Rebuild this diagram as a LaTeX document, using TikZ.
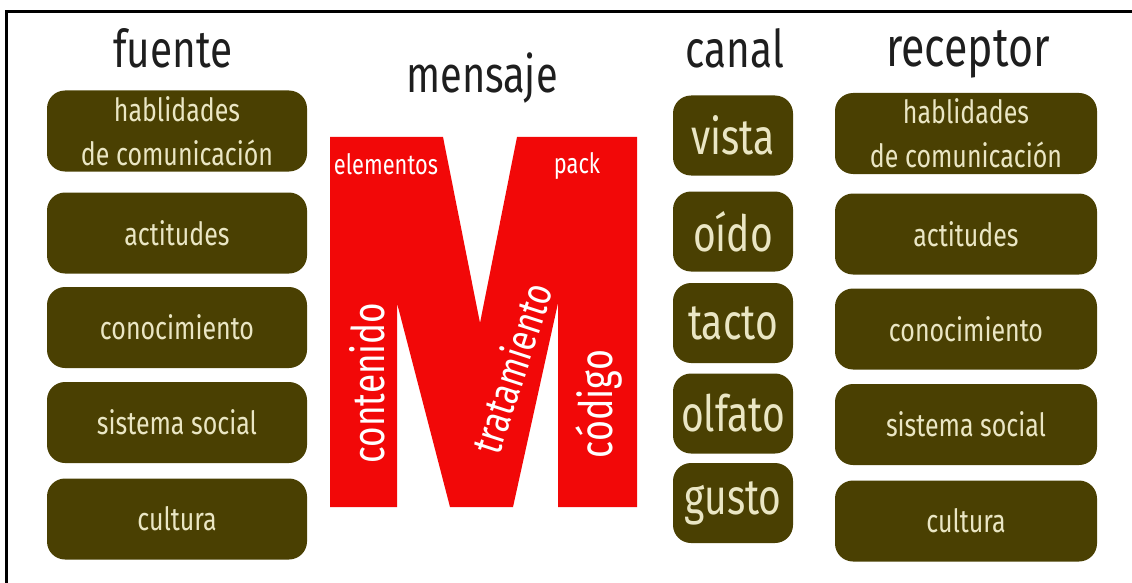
\documentclass[tikz,border=0pt]{standalone}
\usepackage{fontspec}
\setmainfont{Fira Sans}[FakeStretch=0.78]
\usepackage{xcolor}
\usetikzlibrary{calc}

\definecolor{olivebox}{RGB}{74,64,2}
\definecolor{creamtext}{RGB}{234,230,196}
\definecolor{mred}{RGB}{242,8,8}
\definecolor{titlegray}{RGB}{30,30,30}

\begin{document}
\begin{tikzpicture}[
  x=1pt, y=1pt,
  every node/.style={inner sep=0pt},
  heading/.style={font=\fontsize{52}{54}\selectfont, titlegray, anchor=base},
  factor/.style={fill=olivebox, rounded corners=18pt, minimum width=260pt,
    minimum height=81pt, text=creamtext, align=center,
    font=\fontsize{32}{44}\selectfont},
  sense/.style={fill=olivebox, rounded corners=18pt, minimum width=120pt,
    minimum height=80pt, text=creamtext, font=\fontsize{50}{52}\selectfont},
  mword/.style={text=white}
]
\useasboundingbox (0,0) rectangle (1132,-583);

% ---- FRAME (top and left edges) ----
\draw[line width=3pt] (6.5,-583) -- (6.5,-11.5) -- (1132,-11.5);

% ---- TITLES ----
\node[heading] (fuente) at (173,-68) {fuente};
\node[heading, font=\fontsize{51}{53}\selectfont] (mensaje) at (482,-93) {mensaje};
\node[heading] (canal) at (735,-68) {canal};
\node[heading, font=\fontsize{55}{57}\selectfont] (receptor) at (968,-67) {receptor};

% ---- LEFT: fuente ----
\node[factor] (f1) at (177,-131) {hablidades\\de comunicación};
\node[factor] (f2) at (177,-233) {actitudes};
\node[factor] (f3) at (177,-327.5) {conocimiento};
\node[factor] (f4) at (177,-422.5) {sistema social};
\node[factor] (f5) at (177,-519) {cultura};

% ---- MIDDLE: the big M ----
\fill[mred] (330,-137) -- (443,-137) -- (480,-323) -- (517,-137)
  -- (637,-137) -- (637,-507) -- (558,-507) -- (558,-303)
  -- (513,-507) -- (450,-507) -- (397,-303) -- (397,-507)
  -- (330,-507) -- cycle;
\node[mword, font=\fontsize{28}{30}\selectfont] (elem) at (386,-164) {elementos};
\node[mword, font=\fontsize{28}{30}\selectfont] (pack) at (577,-166) {pack};
\node[mword, font=\fontsize{45}{47}\selectfont, rotate=90] (cont) at (367,-383) {contenido};
\node[mword, font=\fontsize{42}{44}\selectfont, rotate=72] (trat) at (511,-368) {tratamiento};
\node[mword, font=\fontsize{46}{48}\selectfont, rotate=90] (codigo) at (599,-404) {código};

% ---- canal ----
\node[sense] (c1) at (733,-135.5) {vista};
\node[sense] (c2) at (733,-231.5) {oído};
\node[sense] (c3) at (733,-323) {tacto};
\node[sense] (c4) at (733,-413.5) {olfato};
\node[sense] (c5) at (733,-503) {gusto};

% ---- RIGHT: receptor ----
\node[factor, minimum width=262pt] (r1) at (966,-133.5) {hablidades\\de comunicación};
\node[factor, minimum width=262pt] (r2) at (966,-234) {actitudes};
\node[factor, minimum width=262pt] (r3) at (966,-329) {conocimiento};
\node[factor, minimum width=262pt] (r4) at (966,-424.5) {sistema social};
\node[factor, minimum width=262pt] (r5) at (966,-521) {cultura};

\end{tikzpicture}
\end{document}
